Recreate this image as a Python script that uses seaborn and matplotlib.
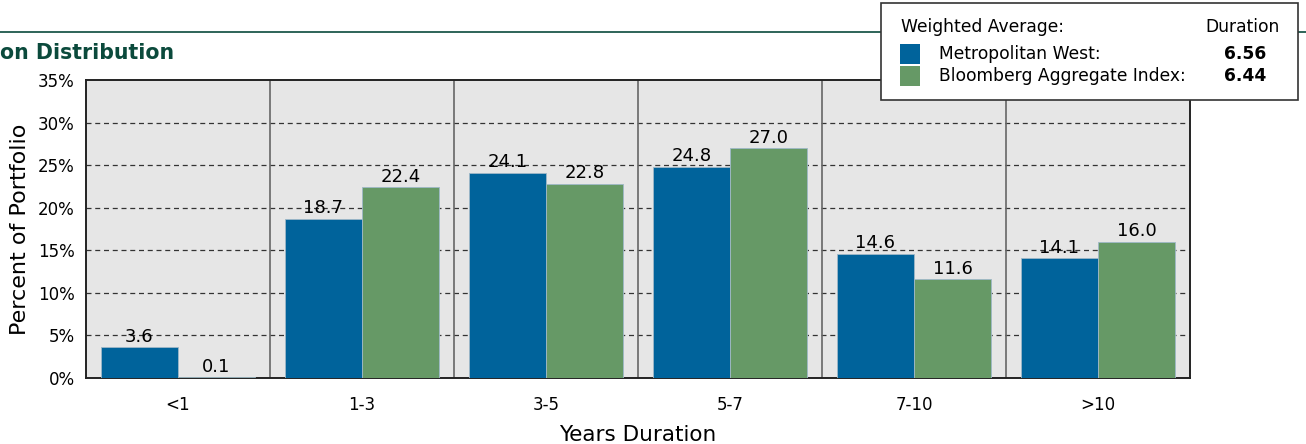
import pandas as pd
import matplotlib
matplotlib.use("Agg")
import matplotlib.pyplot as plt
import seaborn as sns
from matplotlib.patches import Rectangle
from matplotlib.lines import Line2D

# data
buckets = ["<1", "1-3", "3-5", "5-7", "7-10", ">10"]
metwest = [3.6, 18.7, 24.1, 24.8, 14.6, 14.1]
bloomberg = [0.1, 22.4, 22.8, 27.0, 11.6, 16.0]
series_names = ["Metropolitan West", "Bloomberg Aggregate Index"]
avg_duration = ["6.56", "6.44"]
colors = ["#00639b", "#669966"]

df = pd.DataFrame({
    "Bucket": buckets * 2,
    "Value": metwest + bloomberg,
    "Series": [series_names[0]] * 6 + [series_names[1]] * 6,
})

sns.set_style("white")
plt.rcParams["font.family"] = ["DejaVu Sans"]
plt.rcParams.update({"text.color": "black", "axes.labelcolor": "black",
                     "xtick.color": "black", "ytick.color": "black"})

W, H = 1306, 444
fig = plt.figure(figsize=(W / 100, H / 100), dpi=100)
ax = fig.add_axes([86 / W, 1 - 378 / H, (1190 - 86) / W, (378 - 80) / H])
ax.set_facecolor("#e6e6e6")

sns.barplot(data=df, x="Bucket", y="Value", hue="Series", palette=colors,
            width=0.837, gap=0, saturation=1, legend=False, ax=ax,
            edgecolor="#9fb8c8", linewidth=0.6, zorder=3)

ax.set_xlim(-0.5, 5.5)
ax.set_ylim(0, 35)
ax.set_yticks(range(0, 36, 5))
ax.set_yticklabels([f"{v}%" for v in range(0, 36, 5)], fontsize=12)
ax.tick_params(axis="x", labelsize=12, pad=13, length=0)
ax.tick_params(axis="y", length=0, pad=8)
for y in range(5, 35, 5):
    ax.axhline(y, color="#333333", linestyle=(0, (4, 3)), linewidth=0.9, zorder=1)
for x in range(5):
    ax.axvline(x + 0.5, color="#666666", linewidth=1.2, zorder=1)
for s in ax.spines.values():
    s.set_color("#222222")
    s.set_linewidth(1.4)

for cont in ax.containers:
    ax.bar_label(cont, fmt="%.1f", fontsize=13, padding=1, zorder=4, color="black")

ax.set_xlabel("Years Duration", fontsize=15.5, labelpad=8)
ax.set_ylabel("Percent of Portfolio", fontsize=16, labelpad=6)

# header rule and (cropped) title
fig.add_artist(Line2D([0, 1], [1 - 32 / H] * 2, color="#0b4a3c", linewidth=1.2,
                      transform=fig.transFigure))
fig.text(0, 1 - 53 / H, "on Distribution", ha="left", va="center",
         fontsize=14.8, fontweight="bold", color="#0b4a3c")

# weighted average box
fig.add_artist(Rectangle((881 / W, 1 - 100 / H), (1298 - 881) / W, 97 / H,
                         transform=fig.transFigure, facecolor="white",
                         edgecolor="#333333", linewidth=1.2, zorder=10))
fig.text(901 / W, 1 - 27 / H, "Weighted Average:", fontsize=12.3, va="center", zorder=11)
fig.text(1280 / W, 1 - 27 / H, "Duration", fontsize=12.3, va="center", ha="right", zorder=11)
for i, (name, dur, c) in enumerate(zip(series_names, avg_duration, colors)):
    yc = 54 + i * 22
    fig.add_artist(Rectangle((900 / W, 1 - (yc + 10) / H), 20 / W, 20 / H,
                             transform=fig.transFigure, facecolor=c,
                             edgecolor="none", zorder=11))
    fig.text(939 / W, 1 - yc / H, name + ":", fontsize=12.3, va="center", zorder=11)
    fig.text(1266 / W, 1 - yc / H, dur, fontsize=12.3, va="center", ha="right",
             fontweight="bold", zorder=11)

fig.savefig("out.png", dpi=100)
